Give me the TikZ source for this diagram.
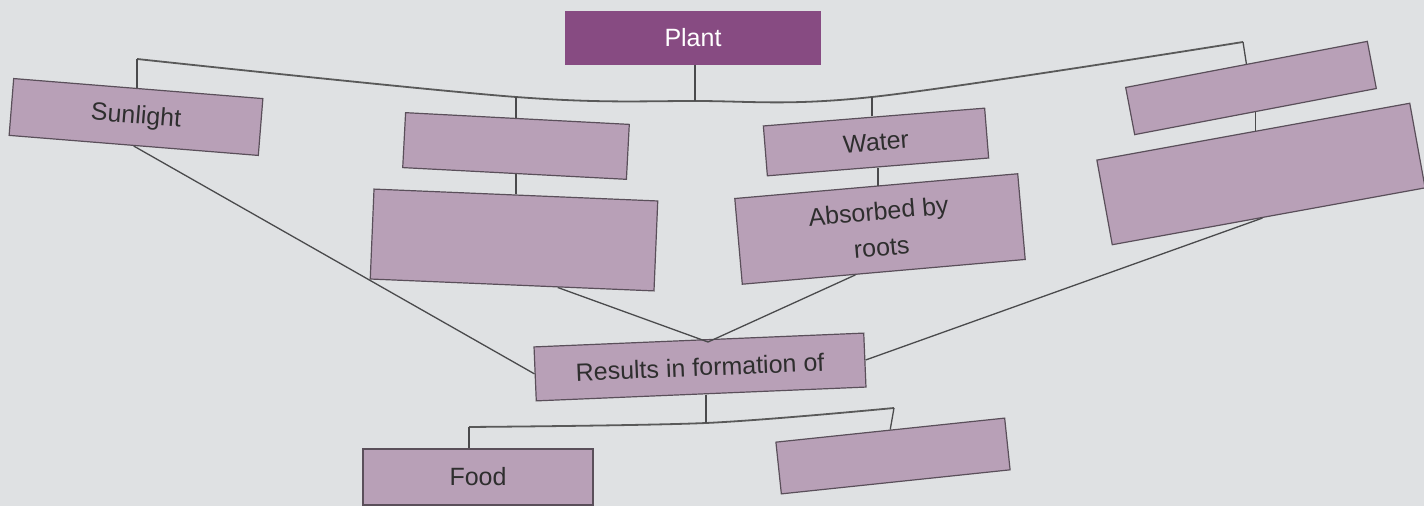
\documentclass[tikz,border=0pt]{standalone}
\usepackage{fontspec}
\setmainfont{Liberation Sans}
\usetikzlibrary{calc}
\definecolor{bg}{HTML}{DFE1E3}
\definecolor{boxfill}{HTML}{B8A0B7}
\definecolor{plantfill}{HTML}{874B82}
\definecolor{edge}{HTML}{5A4F5A}
\definecolor{linec}{HTML}{4A4A4C}
\definecolor{txt}{HTML}{2E2E2E}
\tikzset{
  cbox/.style={draw=edge, line width=0.6pt, fill=boxfill, text=txt, align=center,
    inner sep=0pt, font=\fontsize{12.5}{17}\selectfont},
  topbox/.style={cbox, fill=plantfill, draw=plantfill, text=white},
  link/.style={draw=linec, line width=0.65pt},
  curve/.style={draw=gray!70!black, line width=0.9pt}
}
\begin{document}
\begin{tikzpicture}[x=0.5pt,y=-0.5pt]
\fill[bg] (0,0) rectangle (1424,506);
\useasboundingbox (0,0) rectangle (1424,506);

% boxes
\node[topbox, minimum width=127pt, minimum height=26pt] (plant) at (693,38) {Plant};
\node[cbox, rotate=-4.6, minimum width=125pt, minimum height=28.5pt] (sun) at (136,117) {Sunlight};
\node[cbox, rotate=-3, minimum width=112pt, minimum height=27.5pt] (b2) at (516,146) {};
\node[cbox, rotate=-2.4, minimum width=142pt, minimum height=45pt] (b3) at (514,240) {};
\node[cbox, rotate=4.6, minimum width=111pt, minimum height=25pt] (water) at (876,142) {Water};
\node[cbox, rotate=5, minimum width=142pt, minimum height=43pt] (abs) at (880,229) {Absorbed by\\[1pt]roots};
\node[cbox, rotate=10.8, minimum width=123pt, minimum height=24pt] (r1) at (1251,88) {};
\node[cbox, rotate=10.3, minimum width=159pt, minimum height=43pt] (r2) at (1261,174) {};
\node[cbox, rotate=2.4, minimum width=165pt, minimum height=27pt] (res) at (700,367) {Results in formation of};
\node[cbox, minimum width=115pt, minimum height=28pt] (food) at (478,477) {Food};
\node[cbox, rotate=6, minimum width=115pt, minimum height=26pt] (r3) at (893,456) {};

% top branching
\coordinate (tl) at (137,59);
\coordinate (d2) at (516,97);
\coordinate (pj) at (695,101);
\coordinate (dw) at (872,97);
\coordinate (tr) at (1243,42);
\draw[curve] plot[smooth, tension=0.55] coordinates {(tl) (d2) (pj) (dw) (tr)};
\draw[link] (plant.south -| pj) -- (pj);
\draw[link] (tl) -- (tl |- sun.north);
\draw[link] (d2) -- (d2 |- b2.north);
\draw[link] (dw) -- (dw |- water.north);
\draw[link] (tr) -- (r1.north);

% vertical links inside columns
\draw[link] (d2 |- b2.south) -- (d2 |- b3.north);
\draw[link] (water.south) -- (water.south |- abs.north);
\draw[link] (r1.south) -- (r1.south |- r2.north);

% converging lines
\coordinate (apex) at (708,342);
\draw[link] (sun.south) -- (res.west);
\draw[link] ($(b3.south west)!0.66!(b3.south east)$) -- (apex);
\draw[link] ($(abs.south west)!0.4!(abs.south east)$) -- (apex);
\draw[link] ($(r2.south west)!0.48!(r2.south east)$) -- (res.east);

% bottom branching
\coordinate (bj) at (706,423);
\coordinate (bl) at (469,427);
\coordinate (br) at (894,408);
\draw[curve] plot[smooth, tension=0.5] coordinates {(bl) (bj) (br)};
\draw[link] (bj |- res.south) -- (bj);
\draw[link] (bl) -- (bl |- food.north);
\draw[link] (br) -- (r3.north);
\end{tikzpicture}
\end{document}
